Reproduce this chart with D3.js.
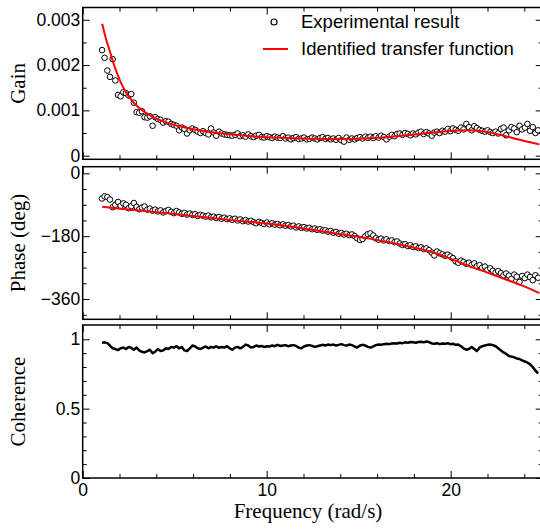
<!DOCTYPE html>
<html>
<head>
<meta charset="utf-8">
<script src="https://cdn.jsdelivr.net/npm/d3@7"></script>
<style>
	body { margin: 0; background: #fff; }
	.tick text { font-family: "Liberation Sans", Arial, sans-serif; font-size: 17.5px; fill: #000; }
	.title { font-family: "Liberation Serif", "Times New Roman", serif; font-size: 21px; fill: #000; }
</style>
</head>
<body>
<div id="chart"></div>
<script>

// measured frequencies (rad/s)
const freq = [
	1.05, 1.19, 1.34, 1.48, 1.63, 1.77, 1.92, 2.06, 2.21, 2.35,
	2.50, 2.64, 2.78, 2.93, 3.07, 3.22, 3.36, 3.51, 3.65, 3.80,
	3.94, 4.08, 4.23, 4.37, 4.52, 4.66, 4.81, 4.95, 5.10, 5.24,
	5.39, 5.53, 5.67, 5.82, 5.96, 6.11, 6.25, 6.40, 6.54, 6.69,
	6.83, 6.97, 7.12, 7.26, 7.41, 7.55, 7.70, 7.84, 7.99, 8.13,
	8.28, 8.42, 8.56, 8.71, 8.85, 9.00, 9.14, 9.29, 9.43, 9.58,
	9.72, 9.86, 10.01, 10.15, 10.30, 10.44, 10.59, 10.73, 10.88, 11.02,
	11.17, 11.31, 11.45, 11.60, 11.74, 11.89, 12.03, 12.18, 12.32, 12.47,
	12.61, 12.75, 12.90, 13.04, 13.19, 13.33, 13.48, 13.62, 13.77, 13.91,
	14.06, 14.20, 14.34, 14.49, 14.63, 14.78, 14.92, 15.07, 15.21, 15.36,
	15.50, 15.64, 15.79, 15.93, 16.08, 16.22, 16.37, 16.51, 16.66, 16.80,
	16.95, 17.09, 17.23, 17.38, 17.52, 17.67, 17.81, 17.96, 18.10, 18.25,
	18.39, 18.53, 18.68, 18.82, 18.97, 19.11, 19.26, 19.40, 19.55, 19.69,
	19.84, 19.98, 20.12, 20.27, 20.41, 20.56, 20.70, 20.85, 20.99, 21.14,
	21.28, 21.42, 21.57, 21.71, 21.86, 22.00, 22.15, 22.29, 22.44, 22.58,
	22.73, 22.87, 23.01, 23.16, 23.30, 23.45, 23.59, 23.74, 23.88, 24.03,
	24.17, 24.31, 24.46, 24.60, 24.75
];

// experimental gain
const gainExp = [
	0.00233, 0.00216, 0.00188, 0.00174, 0.00213, 0.00166, 0.00134, 0.00131, 0.00140, 0.00138,
	0.00133, 0.00136, 0.00117, 0.00096, 0.00095, 0.00098, 0.00085, 0.00084, 0.00087, 0.00066,
	0.00085, 0.00081, 0.00079, 0.00073, 0.00076, 0.00075, 0.00070, 0.00068, 0.00066, 0.00056,
	0.00062, 0.00059, 0.00049, 0.00056, 0.00060, 0.00057, 0.00053, 0.00050, 0.00054, 0.00050,
	0.00047, 0.00060, 0.00051, 0.00044, 0.00053, 0.00049, 0.00047, 0.00046, 0.00045, 0.00044,
	0.00046, 0.00049, 0.00043, 0.00045, 0.00042, 0.00047, 0.00043, 0.00041, 0.00044, 0.00046,
	0.00041, 0.00040, 0.00043, 0.00041, 0.00039, 0.00042, 0.00040, 0.00039, 0.00043, 0.00038,
	0.00040, 0.00036, 0.00039, 0.00041, 0.00037, 0.00038, 0.00040, 0.00036, 0.00037, 0.00040,
	0.00038, 0.00036, 0.00039, 0.00041, 0.00037, 0.00039, 0.00036, 0.00038, 0.00035, 0.00039,
	0.00034, 0.00031, 0.00040, 0.00035, 0.00038, 0.00036, 0.00039, 0.00041, 0.00038, 0.00042,
	0.00039, 0.00042, 0.00039, 0.00043, 0.00040, 0.00044, 0.00041, 0.00036, 0.00042, 0.00046,
	0.00043, 0.00048, 0.00049, 0.00046, 0.00050, 0.00048, 0.00045, 0.00049, 0.00047, 0.00051,
	0.00053, 0.00048, 0.00052, 0.00049, 0.00044, 0.00051, 0.00053, 0.00050, 0.00055, 0.00053,
	0.00059, 0.00054, 0.00060, 0.00057, 0.00055, 0.00062, 0.00058, 0.00070, 0.00063, 0.00056,
	0.00065, 0.00061, 0.00057, 0.00055, 0.00053, 0.00056, 0.00052, 0.00050, 0.00053, 0.00049,
	0.00059, 0.00062, 0.00045, 0.00056, 0.00063, 0.00060, 0.00052, 0.00066, 0.00058, 0.00062,
	0.00070, 0.00055, 0.00063, 0.00050, 0.00056
];

// experimental phase (deg)
const phaseExp = [
	-72, -66, -68, -75, -97, -90, -82, -93, -86, -90,
	-100, -94, -85, -96, -103, -98, -95, -104, -101, -107,
	-104, -109, -106, -112, -108, -105, -110, -114, -108, -112,
	-116, -113, -118, -115, -119, -117, -122, -119, -121, -124,
	-121, -126, -124, -128, -125, -130, -127, -131, -129, -133,
	-130, -135, -132, -137, -134, -138, -136, -140, -143, -139,
	-142, -145, -141, -146, -143, -147, -145, -149, -146, -150,
	-148, -152, -150, -155, -152, -156, -154, -158, -156, -160,
	-158, -162, -160, -164, -163, -167, -165, -170, -168, -173,
	-171, -175, -173, -177, -175, -180, -186, -191, -188, -180,
	-174, -172, -178, -186, -190, -187, -192, -189, -194, -192,
	-197, -195, -201, -205, -203, -208, -206, -211, -209, -214,
	-212, -217, -215, -220, -227, -235, -224, -229, -232, -236,
	-233, -238, -243, -252, -256, -250, -254, -259, -256, -262,
	-258, -266, -263, -270, -267, -276, -272, -279, -284, -280,
	-286, -292, -287, -293, -302, -290, -296, -311, -294, -300,
	-290, -297, -306, -292, -299
];

// coherence
const coherence = [
	0.975, 0.978, 0.972, 0.955, 0.935, 0.930, 0.922, 0.935, 0.940, 0.930,
	0.945, 0.938, 0.925, 0.940, 0.920, 0.910, 0.905, 0.915, 0.925, 0.900,
	0.910, 0.930, 0.915, 0.920, 0.935, 0.930, 0.945, 0.940, 0.950, 0.935,
	0.945, 0.920, 0.915, 0.935, 0.955, 0.948, 0.935, 0.930, 0.940, 0.948,
	0.935, 0.945, 0.940, 0.950, 0.938, 0.945, 0.940, 0.950, 0.935, 0.925,
	0.940, 0.945, 0.935, 0.945, 0.962, 0.955, 0.940, 0.945, 0.955, 0.948,
	0.952, 0.945, 0.950, 0.948, 0.955, 0.950, 0.960, 0.952, 0.955, 0.958,
	0.950, 0.955, 0.958, 0.952, 0.940, 0.935, 0.948, 0.955, 0.958, 0.952,
	0.945, 0.950, 0.955, 0.960, 0.955, 0.962, 0.958, 0.962, 0.955, 0.960,
	0.965, 0.958, 0.955, 0.962, 0.958, 0.948, 0.940, 0.955, 0.960, 0.955,
	0.945, 0.940, 0.948, 0.958, 0.962, 0.960, 0.965, 0.968, 0.965, 0.970,
	0.972, 0.970, 0.975, 0.972, 0.978, 0.975, 0.980, 0.978, 0.975, 0.980,
	0.982, 0.978, 0.984, 0.980, 0.970, 0.968, 0.972, 0.965, 0.970, 0.968,
	0.972, 0.965, 0.968, 0.960, 0.962, 0.950, 0.935, 0.925, 0.930, 0.945,
	0.930, 0.915, 0.940, 0.950, 0.955, 0.960, 0.962, 0.958, 0.950, 0.935,
	0.920, 0.905, 0.895, 0.880, 0.875, 0.870, 0.862, 0.858, 0.848, 0.840,
	0.832, 0.820, 0.800, 0.775, 0.755
];

// identified transfer function
const fitGainFreq = [1.06, 1.25, 1.45, 1.64, 1.83, 2.07, 2.31, 2.55, 2.79, 3.27, 3.76, 4.24, 4.72, 5.68, 6.64, 7.60, 8.57, 9.53, 10.49, 11.45, 12.41, 13.38, 14.34, 15.30, 16.26, 17.22, 18.19, 19.15, 20.11, 20.88, 21.55, 22.03, 22.99, 23.96, 24.82];
const fitGain = [0.00291, 0.00260, 0.00234, 0.00208, 0.00186, 0.00162, 0.00143, 0.00128, 0.00116, 0.00099, 0.00087, 0.00078, 0.00071, 0.00061, 0.00054, 0.00049, 0.00045, 0.00042, 0.00040, 0.000385, 0.000375, 0.00037, 0.00037, 0.00038, 0.00040, 0.000435, 0.000475, 0.000515, 0.00055, 0.00056, 0.000545, 0.00052, 0.00043, 0.00033, 0.00025];
const fitPhaseFreq = [1.06, 2.79, 4.72, 6.64, 8.08, 10.20, 12.03, 13.76, 15.59, 17.42, 19.24, 20.11, 21.07, 22.03, 22.90, 23.96, 24.82];
const fitPhase = [-96, -105, -115, -126, -134, -145, -158, -172, -187, -206, -230, -247, -267, -285, -302, -323, -343];

// set the dimensions of the graph (right frame falls just outside the picture)
const width = 540, height = 529;
const left = 82.7, right = 542.7;

const svg = d3.select("#chart")
	.append("svg")
	.attr("width", width)
	.attr("height", height);

// x scale shared by the three panels
const x = d3.scaleLinear().domain([0, 25]).range([left, right]);
const xMajor = [0, 10, 20];
const xMinor = [2, 4, 6, 8, 12, 14, 16, 18, 22, 24];

// panels: top, bottom in pixels
const panels = [
	{ top: 7.5, bottom: 159.3, domain: [-0.00008, 0.003271], major: [0, 0.001, 0.002, 0.003], minor: [0.0005, 0.0015, 0.0025],
		fmt: d => d === 0 ? "0" : d3.format(".3f")(d), title: "Gain" },
	{ top: 166.7, bottom: 319.3, domain: [-418, 19], major: [0, -180, -360], minor: [-45, -90, -135, -225, -270, -315, -405],
		fmt: d3.format("d"), title: "Phase (deg)" },
	{ top: 325, bottom: 478, domain: [0, 1.103], major: [0, 0.5, 1], minor: [0.1, 0.2, 0.3, 0.4, 0.6, 0.7, 0.8, 0.9],
		fmt: d3.format("~g"), title: "Coherence" }
];

panels.forEach(function (p, i) {
	p.y = d3.scaleLinear().domain(p.domain).range([p.bottom, p.top]);
	const g = svg.append("g").attr("class", "panel" + i);
	const last = i === panels.length - 1;

	// ticks on four sides, pointing inward
	const addAxis = function (axis, transform) {
		g.append("g")
			.attr("transform", transform)
			.call(axis)
			.call(a => a.select(".domain").remove())
			.call(a => a.selectAll(".tick line").attr("stroke", "#000").attr("stroke-width", 1));
	};
	addAxis(d3.axisLeft(p.y).tickValues(p.major).tickSize(-7).tickPadding(2.5).tickFormat(p.fmt), `translate(${left},0)`);
	addAxis(d3.axisLeft(p.y).tickValues(p.minor).tickSize(-4).tickFormat(""), `translate(${left},0)`);
	addAxis(d3.axisRight(p.y).tickValues(p.major).tickSize(-7).tickFormat(""), `translate(${right},0)`);
	addAxis(d3.axisRight(p.y).tickValues(p.minor).tickSize(-4).tickFormat(""), `translate(${right},0)`);
	addAxis(d3.axisTop(x).tickValues(xMajor).tickSize(-7).tickFormat(""), `translate(0,${p.top})`);
	addAxis(d3.axisTop(x).tickValues(xMinor).tickSize(-4).tickFormat(""), `translate(0,${p.top})`);
	addAxis(d3.axisBottom(x).tickValues(xMajor).tickSize(-7).tickPadding(6).tickFormat(last ? d3.format("d") : ""), `translate(0,${p.bottom})`);
	addAxis(d3.axisBottom(x).tickValues(xMinor).tickSize(-4).tickFormat(""), `translate(0,${p.bottom})`);

	// frame
	g.append("rect")
		.attr("x", left)
		.attr("y", p.top)
		.attr("width", right - left)
		.attr("height", p.bottom - p.top)
		.attr("fill", "none")
		.attr("stroke", "#000")
		.attr("stroke-width", 1.5);

	// y title
	g.append("text")
		.attr("class", "title")
		.attr("transform", `translate(25,${(p.top + p.bottom) / 2}) rotate(-90)`)
		.attr("text-anchor", "middle")
		.text(p.title);
});

const [pGain, pPhase, pCoh] = panels;

// experimental gain
svg.append("g")
	.selectAll("circle")
	.data(freq)
	.join("circle")
	.attr("cx", d => x(d))
	.attr("cy", (d, i) => pGain.y(gainExp[i]))
	.attr("r", 2.8)
	.attr("fill", "#fff")
	.attr("stroke", "#000")
	.attr("stroke-width", 1);

// experimental phase
svg.append("g")
	.selectAll("circle")
	.data(freq)
	.join("circle")
	.attr("cx", d => x(d))
	.attr("cy", (d, i) => pPhase.y(phaseExp[i]))
	.attr("r", 2.8)
	.attr("fill", "#fff")
	.attr("stroke", "#000")
	.attr("stroke-width", 1);

// fitted curves
svg.append("path")
	.datum(fitGainFreq)
	.attr("fill", "none")
	.attr("stroke", "#ff0000")
	.attr("stroke-width", 2)
	.attr("d", d3.line().x(d => x(d)).y((d, i) => pGain.y(fitGain[i])).curve(d3.curveMonotoneX));

svg.append("path")
	.datum(fitPhaseFreq)
	.attr("fill", "none")
	.attr("stroke", "#ff0000")
	.attr("stroke-width", 2)
	.attr("d", d3.line().x(d => x(d)).y((d, i) => pPhase.y(fitPhase[i])).curve(d3.curveMonotoneX));

// coherence line
svg.append("path")
	.datum(freq)
	.attr("fill", "none")
	.attr("stroke", "#000")
	.attr("stroke-width", 2.5)
	.attr("stroke-linejoin", "round")
	.attr("d", d3.line().x(d => x(d)).y((d, i) => pCoh.y(coherence[i])));

// x title
svg.append("text")
	.attr("class", "title")
	.attr("x", 308)
	.attr("y", 518)
	.attr("text-anchor", "middle")
	.text("Frequency (rad/s)");

// legend
const legend = svg.append("g")
	.style("font-family", "'Liberation Sans', Arial, sans-serif")
	.style("font-size", "18.5px");

legend.append("circle")
	.attr("cx", 274).attr("cy", 22).attr("r", 3)
	.attr("fill", "#fff").attr("stroke", "#000").attr("stroke-width", 1.2);
legend.append("text")
	.attr("x", 301).attr("y", 22).attr("dy", "0.35em")
	.text("Experimental result");

legend.append("line")
	.attr("x1", 263).attr("x2", 288).attr("y1", 49).attr("y2", 49)
	.attr("stroke", "#ff0000").attr("stroke-width", 2);
legend.append("text")
	.attr("x", 301).attr("y", 49).attr("dy", "0.35em")
	.text("Identified transfer function");

</script>
</body>
</html>
